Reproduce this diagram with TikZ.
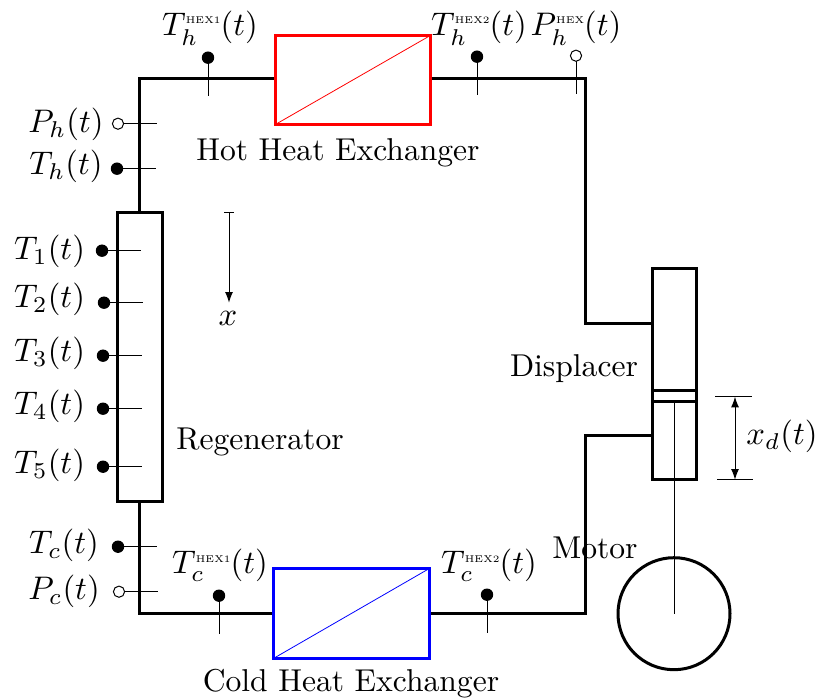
\documentclass[tikz,border=0pt]{standalone}
\usepackage{tikz}
\usepackage{graphicx}
\usepackage{mathtools}
\usepackage{xcolor}
\usetikzlibrary{arrows.meta}
\tikzset{
  pipe/.style={line width=2.25pt,line join=miter},
  stem/.style={line width=0.75pt},
  lbl/.style={inner sep=0.75pt,scale=2.37},
  mathlbl/.style={inner sep=0.75pt,scale=2.45},
  headtip/.tip={Latex[length=8pt,width=6pt]},
}
\newcommand{\hexs}[1]{\mbox{\scalebox{0.6}{\tiny #1}\hspace{-0.5pt}}}

\begin{document}
\begin{tikzpicture}[x=0.75pt,y=0.75pt,yscale=-1,xscale=1]
\useasboundingbox (0,-0.7) rectangle (817,697.3);

%Straight Lines: pipe, hot side
\draw [pipe]  (139,212) -- (139,78) -- (275,78) ;
\draw [pipe]  (430,78) -- (585,78) -- (585,323) -- (652,323) ;
%Straight Lines: pipe, cold side
\draw [pipe]  (652,435) -- (585,435) -- (585,613) -- (429,613) ;
\draw [pipe]  (273,613) -- (139,613) -- (139,501) ;

%Shape: Rectangle hot exchanger
\draw [pipe, color=red]  (275,35) rectangle (430,124) ;
\draw [color=red, line width=0.6pt]  (275,124) -- (430,35) ;
%Shape: Rectangle cold exchanger
\draw [pipe, color=blue]  (273,568) rectangle (429,658) ;
\draw [color=blue, line width=0.6pt]  (273,658) -- (429,568) ;
%Shape: Rectangle regenerator
\draw [pipe]  (117,212) rectangle (162,501) ;
%Shape: Rectangle displacer
\draw [pipe]  (652,268) rectangle (696,479) ;
\draw [pipe]  (652,390) -- (696,390) ;
\draw [pipe]  (652,401) -- (696,401) ;
\draw [line width=0.6pt]  (674,401) -- (674,613) ;
%Shape: Circle motor
\draw [pipe]  (674,613) circle (56) ;

%Sensors, left side
\draw [stem]  (118,123) -- (157,123) ;
\draw [stem, fill=white]  (118,123) circle (5.6) ;
\draw [stem]  (117,168) -- (156,168) ;
\fill  (117,168) circle (6.2) ;
\draw [stem]  (102,250) -- (141,250) ;
\fill  (102,250) circle (6.2) ;
\draw [stem]  (104,302) -- (143,302) ;
\fill  (104,302) circle (6.2) ;
\draw [stem]  (103,355) -- (142,355) ;
\fill  (103,355) circle (6.2) ;
\draw [stem]  (103,408) -- (142,408) ;
\fill  (103,408) circle (6.2) ;
\draw [stem]  (103,466) -- (142,466) ;
\fill  (103,466) circle (6.2) ;
\draw [stem]  (118,546) -- (157,546) ;
\fill  (118,546) circle (6.2) ;
\draw [stem]  (119,591) -- (158,591) ;
\draw [stem, fill=white]  (119,591) circle (5.6) ;
%Sensors, top
\draw [stem]  (208,57) -- (208,95) ;
\fill  (208,57) circle (6.2) ;
\draw [stem]  (477,56) -- (477,94) ;
\fill  (477,56) circle (6.2) ;
\draw [stem]  (576,55) -- (576,93) ;
\draw [stem, fill=white]  (576,55) circle (5.6) ;
%Sensors, bottom
\draw [stem]  (219,595) -- (219,633) ;
\fill  (219,595) circle (6.2) ;
\draw [stem]  (487,594) -- (487,632) ;
\fill  (487,594) circle (6.2) ;

%Straight Lines: x direction
\draw [stem]  (224,212) -- (234,212) ;
\draw [stem, -headtip]  (229,212) -- (229,302) ;
%Straight Lines: stroke
\draw [stem]  (715,396) -- (752,396) ;
\draw [stem]  (717,479) -- (753,479) ;
\draw [stem, headtip-headtip]  (735,396) -- (735,479) ;

% Text Node
\node [lbl] (hotlabel) at (338,152.5) {Hot Heat Exchanger};
% Text Node
\node [lbl] (coldlabel) at (351,682.5) {Cold Heat Exchanger};
% Text Node
\node [lbl] (regenlabel) at (260,441.5) {Regenerator};
% Text Node
\node [lbl] (displabel) at (574,367.5) {Displacer};
% Text Node
\node [lbl] (motorlabel) at (595,547.5) {Motor};
% Text Node
\node [mathlbl] (xdlabel) at (782,435.5) {$x_{d}(t)$};
% Text Node
\node [mathlbl] (xlabel) at (228,318) {$x$};
% Text Node
\node [mathlbl] (thone) at (210,27.5) {$T_{h}^{\hexs{HEX1}}(t)$};
% Text Node
\node [mathlbl] (thtwo) at (479,27.5) {$T_{h}^{\hexs{HEX2}}(t)$};
% Text Node
\node [mathlbl] (phhex) at (576,27.5) {$P_{h}^{\hexs{HEX}}(t)$};
% Text Node
\node [mathlbl] (ph) at (66,123.5) {$P_{h}(t)$};
% Text Node
\node [mathlbl] (th) at (66,165.5) {$T_{h}(t)$};
% Text Node
\node [mathlbl] (tone) at (49.5,250.5) {$T_{1}(t)$};
% Text Node
\node [mathlbl] (ttwo) at (49.5,298.5) {$T_{2}(t)$};
% Text Node
\node [mathlbl] (tthree) at (49.5,352.5) {$T_{3}(t)$};
% Text Node
\node [mathlbl] (tfour) at (49.5,405.5) {$T_{4}(t)$};
% Text Node
\node [mathlbl] (tfive) at (49.5,464.5) {$T_{5}(t)$};
% Text Node
\node [mathlbl] (tc) at (64,544.5) {$T_{c}(t)$};
% Text Node
\node [mathlbl] (pc) at (64,590.5) {$P_{c}(t)$};
% Text Node
\node [mathlbl] (tcone) at (220,565) {$T_{c}^{\hexs{HEX1}}(t)$};
% Text Node
\node [mathlbl] (tctwo) at (489,565) {$T_{c}^{\hexs{HEX2}}(t)$};

\end{tikzpicture}
\end{document}
